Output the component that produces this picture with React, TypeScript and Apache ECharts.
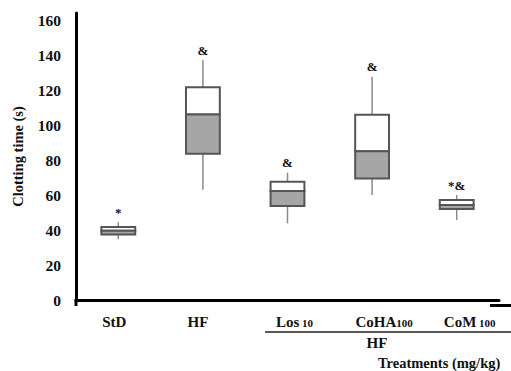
import React, { useEffect, useRef } from "react";
import * as echarts from "echarts";

const categories = ["StD", "HF", "Los", "CoHA", "CoM"];
const doses = ["", "", " 10", "100", " 100"];
// [min, Q1, median, Q3, max]
const boxValues = [
  [34.7, 37.5, 39.6, 41.7, 44.4],
  [63, 83.6, 106, 121.6, 137],
  [43.8, 53.7, 62.3, 67.6, 72.7],
  [60, 69.5, 85, 105.9, 127.6],
  [45.7, 52, 54.3, 57.1, 60],
];
const annotations = ["*", "&", "&", "&", "*&"];
const yTicks = { min: 0, max: 164, interval: 20 };

const labelShift = [-4, -5, 7, 12, 13];
const SERIF = '"Liberation Serif", "Times New Roman", serif';

export default function App() {
  const ref = useRef<HTMLDivElement>(null);
  useEffect(() => {
    if (!ref.current) return;
    const chart = echarts.init(ref.current, null, { renderer: "svg" });
    const data = boxValues.map((b, i) => [i, ...b]);
    const rich: any = {
      m: { fontSize: 15, fontWeight: "bold", fontFamily: SERIF, color: "#111" },
      s: { fontSize: 11, fontWeight: "bold", fontFamily: SERIF, color: "#111", padding: [3, 0, 0, 0] },
    };
    labelShift.forEach((s, i) => {
      rich["g" + i] = { width: Math.abs(s) * 2, fontSize: 15 };
    });
    chart.setOption({
      animation: false,
      grid: { left: 76, right: 12, top: 13, bottom: 71 },
      xAxis: {
        type: "category",
        data: categories,
        offset: 5,
        axisLine: { lineStyle: { color: "#000", width: 3 } },
        axisTick: { show: false },
        axisLabel: {
          margin: 9,
          interval: 0,
          formatter: (v: string, i: number) => {
            const s = labelShift[i];
            const main = `{m|${v}}` + (doses[i].trim() ? `{s|${doses[i]}}` : "");
            return s >= 0 ? `{g${i}| }${main}` : `${main}{g${i}| }`;
          },
          rich,
        },
        splitLine: { show: false },
      },
      yAxis: {
        type: "value",
        min: yTicks.min,
        max: yTicks.max,
        interval: yTicks.interval,
        name: "Clotting time (s)",
        nameLocation: "middle",
        nameRotate: 90,
        nameGap: 51,
        nameTextStyle: { fontSize: 14.5, fontWeight: "bold", fontFamily: SERIF, color: "#111" },
        axisLine: { show: true, lineStyle: { color: "#000", width: 3 } },
        axisTick: { show: false },
        splitLine: { show: false },
        axisLabel: {
          showMaxLabel: false,
          margin: 15,
          fontSize: 15.5,
          fontWeight: "bold",
          fontFamily: SERIF,
          color: "#111",
        },
      },
      series: [
        {
          type: "custom",
          data,
          encode: { x: 0, y: [1, 2, 3, 4, 5] },
          renderItem: (params: any, api: any) => {
            const x = api.value(0);
            const pMin = api.coord([x, api.value(1)]);
            const pQ1 = api.coord([x, api.value(2)]);
            const pMed = api.coord([x, api.value(3)]);
            const pQ3 = api.coord([x, api.value(4)]);
            const pMax = api.coord([x, api.value(5)]);
            const half = api.size([1, 0])[0] * 0.2;
            const cx = pMed[0];
            const whisker = { stroke: "#8a8a8a", lineWidth: 1.5 };
            const box = { stroke: "#555", lineWidth: 2 };
            return {
              type: "group",
              children: [
                { type: "line", shape: { x1: cx, y1: pMax[1], x2: cx, y2: pQ3[1] }, style: whisker },
                { type: "line", shape: { x1: cx, y1: pQ1[1], x2: cx, y2: pMin[1] }, style: whisker },
                {
                  type: "rect",
                  shape: { x: cx - half, y: pQ3[1], width: half * 2, height: pMed[1] - pQ3[1] },
                  style: { fill: "#ffffff", ...box },
                },
                {
                  type: "rect",
                  shape: { x: cx - half, y: pMed[1], width: half * 2, height: pQ1[1] - pMed[1] },
                  style: { fill: "#a6a6a6", ...box },
                },
                {
                  type: "text",
                  style: {
                    text: annotations[params.dataIndex],
                    x: cx,
                    y: pMax[1] - 10,
                    align: "center",
                    verticalAlign: "middle",
                    fontSize: 13,
                    fontWeight: "bold",
                    fontFamily: SERIF,
                    fill: "#111",
                  },
                },
              ],
            };
          },
        },
      ],
      graphic: [
        { type: "line", shape: { x1: 76, y1: 299, x2: 76, y2: 306 }, style: { stroke: "#000", lineWidth: 3 } },
        { type: "line", shape: { x1: 490, y1: 305.5, x2: 511, y2: 305.5 }, style: { stroke: "#000", lineWidth: 3 } },
        { type: "line", shape: { x1: 265, y1: 332, x2: 511, y2: 332 }, style: { stroke: "#222", lineWidth: 1.5 } },
        {
          type: "text",
          style: {
            text: "HF",
            x: 377,
            y: 343,
            align: "center",
            verticalAlign: "middle",
            fontSize: 15,
            fontWeight: "bold",
            fontFamily: SERIF,
            fill: "#111",
          },
        },
        {
          type: "text",
          style: {
            text: "Treatments (mg/kg)",
            x: 378,
            y: 363,
            align: "left",
            verticalAlign: "middle",
            fontSize: 14.5,
            fontWeight: "bold",
            fontFamily: SERIF,
            fill: "#111",
          },
        },
      ],
    });
    return () => chart.dispose();
  }, []);
  return <div ref={ref} style={{ width: 511, height: 371, position: "absolute", left: 0, top: 0 }} />;
}
